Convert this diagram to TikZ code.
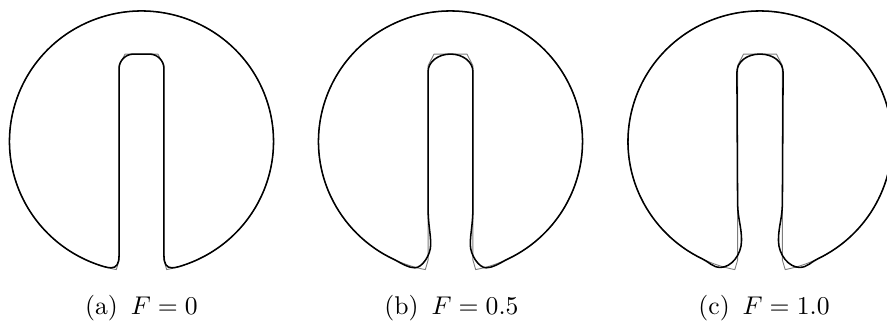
\documentclass[tikz,border=0pt]{standalone}
\usepackage{tikz}
\usepackage{xcolor}
\definecolor{exact}{RGB}{125,125,125}
\definecolor{computed}{RGB}{0,0,0}

\begin{document}
\begin{tikzpicture}[x=0.39pt, y=0.39pt]
  \tikzset{
    exactline/.style={exact, line width=0.35pt, line join=round},
    simline/.style={computed, line width=0.6pt, line join=round},
    disc/.style={xscale=132, yscale=130.5},
    caption/.style={font=\normalsize, inner sep=1pt},
  }
  % Page frame
  \clip (0,0) rectangle (887,327);

  % Slot geometry (unit disc)
  \def\sw{0.17}
  \def\sh{0.67}

  % Exact disc under every result
  \foreach \cx in {141.5, 450.5, 760} {
    \begin{scope}[shift={(\cx,185.5)}, disc]
      \draw[exactline] (-79:1) -- (\sw,-0.91) -- (\sw,\sh-0.09) -- (\sw-0.045,\sh)
        -- (-\sw+0.045,\sh) -- (-\sw,\sh-0.09) -- (-\sw,-0.91) -- (259:1)
        arc[start angle=259, end angle=-79, radius=1] -- cycle;
    \end{scope}
  }

  % (a) F = 0
  \begin{scope}[shift={(141.5,185.5)}, disc]
    \draw[simline] (0,\sh) -- (0.06,\sh) .. controls (0.12,\sh) and (\sw,\sh-0.05) .. (\sw,\sh-0.11)
      -- (\sw,-0.87) .. controls (\sw,-0.94) and (0.19,-0.968) .. (0.23,-0.968)
      .. controls (0.26,-0.968) and (0.3,-0.955) .. (-70:1)
      arc[start angle=-70, end angle=250, radius=1]
      .. controls (-0.3,-0.955) and (-0.26,-0.968) .. (-0.23,-0.968)
      .. controls (-0.19,-0.968) and (-\sw,-0.94) .. (-\sw,-0.87)
      -- (-\sw,\sh-0.11) .. controls (-\sw,\sh-0.05) and (-0.12,\sh) .. (-0.06,\sh) -- cycle;
  \end{scope}
  \node[caption] (cap-a) at (141.5,18.5) {(a)\enspace$F=0$};

  % (b) F = 0.5
  \begin{scope}[shift={(450.5,185.5)}, disc]
    \draw[simline] (0,\sh) .. controls (0.094,\sh) and (\sw,\sh-0.06) .. (\sw,\sh-0.135)
      -- (\sw,-0.5) .. controls (\sw,-0.64) and (0.15,-0.7) .. (0.15,-0.79)
      .. controls (0.15,-0.87) and (0.215,-0.968) .. (0.27,-0.968)
      .. controls (0.32,-0.968) and (0.37,-0.935) .. (-65:1)
      arc[start angle=-65, end angle=245, radius=1]
      .. controls (-0.37,-0.935) and (-0.32,-0.968) .. (-0.27,-0.968)
      .. controls (-0.215,-0.968) and (-0.15,-0.87) .. (-0.15,-0.79)
      .. controls (-0.15,-0.7) and (-\sw,-0.64) .. (-\sw,-0.5)
      -- (-\sw,\sh-0.135) .. controls (-\sw,\sh-0.06) and (-0.094,\sh) .. (0,\sh) -- cycle;
  \end{scope}
  \node[caption] (cap-b) at (451.5,18.5) {(b)\enspace$F=0.5$};

  % (c) F = 1.0
  \begin{scope}[shift={(760,185.5)}, disc]
    \draw[simline] (0,\sh) .. controls (0.1,\sh) and (\sw+0.005,\sh-0.06) .. (\sw+0.005,\sh-0.14)
      -- (\sw,-0.45) .. controls (\sw,-0.6) and (0.14,-0.64) .. (0.14,-0.76)
      .. controls (0.14,-0.87) and (0.22,-0.965) .. (0.3,-0.965)
      .. controls (0.36,-0.965) and (0.39,-0.92) .. (-64:1)
      arc[start angle=-64, end angle=244, radius=1]
      .. controls (-0.39,-0.92) and (-0.36,-0.965) .. (-0.3,-0.965)
      .. controls (-0.22,-0.965) and (-0.14,-0.87) .. (-0.14,-0.76)
      .. controls (-0.14,-0.64) and (-\sw,-0.6) .. (-\sw,-0.45)
      -- (-\sw-0.005,\sh-0.14) .. controls (-\sw-0.005,\sh-0.06) and (-0.1,\sh) .. (0,\sh) -- cycle;
  \end{scope}
  \node[caption] (cap-c) at (764,18.5) {(c)\enspace$F=1.0$};
\end{tikzpicture}
\end{document}
